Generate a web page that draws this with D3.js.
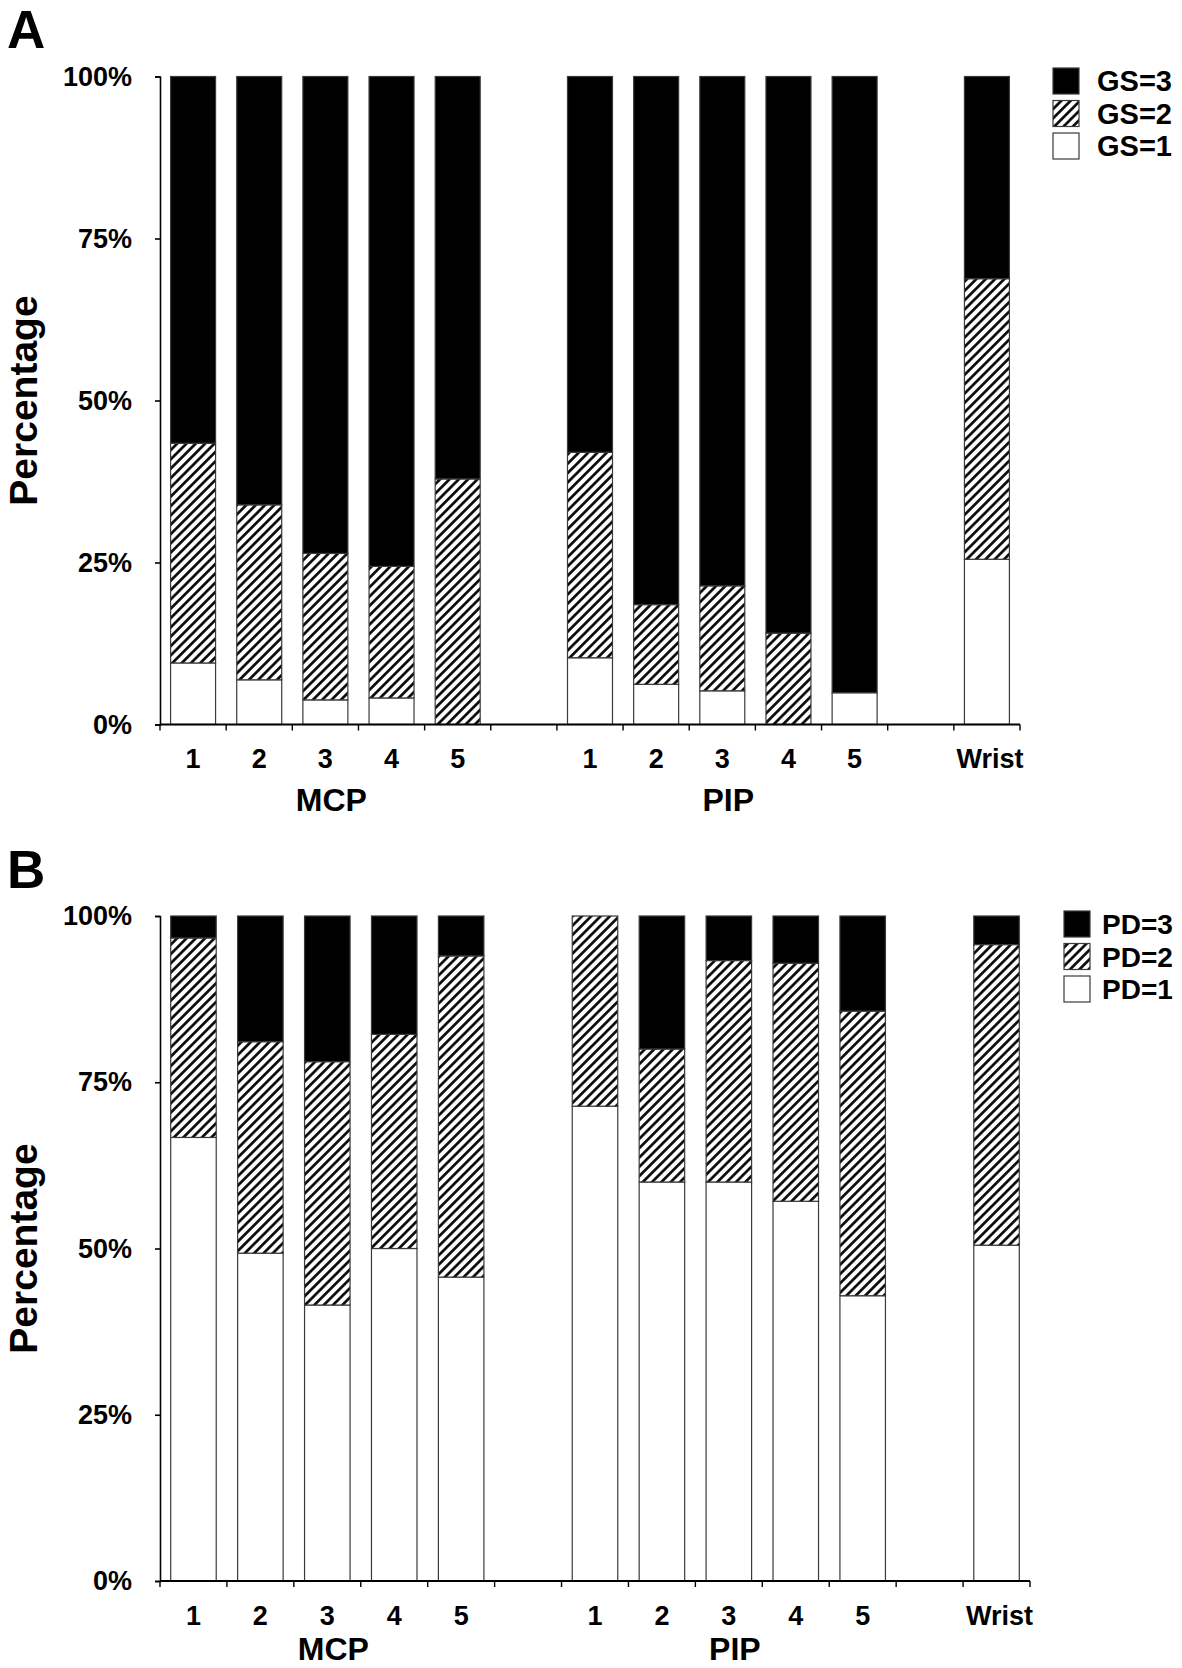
<!DOCTYPE html>
<html><head><meta charset="utf-8">
<script src="https://cdn.jsdelivr.net/npm/d3@7"></script>
<style>
body{margin:0;background:#fff}
svg{display:block}
text{font-family:"Liberation Sans",Arial,sans-serif;font-weight:bold;fill:#000}
</style>
</head><body>
<svg id="chart" width="1182" height="1668"></svg>
<script>
// ---------- data ----------
const slots = ["MCP-1","MCP-2","MCP-3","MCP-4","MCP-5","gap-a","PIP-1","PIP-2","PIP-3","PIP-4","PIP-5","gap-b","Wrist"];
const tickLabels = ["1","2","3","4","5","","1","2","3","4","5","","Wrist"];
const joints = ["MCP-1","MCP-2","MCP-3","MCP-4","MCP-5","PIP-1","PIP-2","PIP-3","PIP-4","PIP-5","Wrist"];
const groupLabels = [{label:"MCP", slot:"MCP-3"},{label:"PIP", slot:"PIP-3"}];
const yTicks = [0,25,50,75,100];

// Panel A: grey-scale synovitis (GS) grade percentages
const gs1 = [9.5, 6.9, 3.8, 4.1, 0, 10.3, 6.2, 5.2, 0, 4.9, 25.5];
const gs2 = [33.9, 27.0, 22.6, 20.3, 37.9, 31.7, 12.3, 16.2, 14.1, 0, 43.3];
const gs3 = [56.6, 66.1, 73.6, 75.6, 62.1, 58.0, 81.5, 78.6, 85.9, 95.1, 31.2];
const gsLegend = ["GS=3","GS=2","GS=1"];

// Panel B: power Doppler (PD) grade percentages
const pd1 = [66.7, 49.3, 41.5, 50.0, 45.7, 71.4, 60.0, 60.0, 57.1, 42.9, 50.5];
const pd2 = [30.0, 31.8, 36.6, 32.2, 48.3, 28.6, 20.0, 33.3, 35.8, 42.8, 45.2];
const pd3 = [3.3, 18.9, 21.9, 17.8, 6.0, 0, 20.0, 6.7, 7.1, 14.3, 4.3];
const pdLegend = ["PD=3","PD=2","PD=1"];

// ---------- drawing ----------
const svg = d3.select("#chart");
const defs = svg.append("defs");
const P = 6.6;
const pat = defs.append("pattern").attr("id","hatch")
  .attr("patternUnits","userSpaceOnUse").attr("width",P).attr("height",P)
  .attr("patternTransform","rotate(45)");
pat.append("rect").attr("width",P).attr("height",P).attr("fill","#fff");
pat.append("line").attr("x1",P/2).attr("y1",0).attr("x2",P/2).attr("y2",P)
  .attr("stroke","#000").attr("stroke-width",2.6);

const fills = ["#fff","url(#hatch)","#000"];

function panel(cfg){
  const g = svg.append("g");
  const x = d3.scaleBand().domain(slots).range([cfg.x0,cfg.x1])
    .paddingInner(0.32).paddingOuter(0.16);
  const y = d3.scaleLinear().domain([0,100]).range([cfg.yb,cfg.yt]);

  const rows = joints.map((j,i)=>({joint:j, l1:cfg.s1[i], l2:cfg.s2[i], l3:cfg.s3[i]}));
  const stack = d3.stack().keys(["l1","l2","l3"])(rows);

  stack.forEach((layer,li)=>{
    g.append("g").selectAll("rect").data(layer.filter(d=>d[1]-d[0]>0)).join("rect")
      .attr("x",d=>x(d.data.joint))
      .attr("width",x.bandwidth())
      .attr("y",d=>y(d[1]))
      .attr("height",d=>y(d[0])-y(d[1]))
      .attr("fill",fills[li])
      .attr("stroke","#3a3a3a").attr("stroke-width",1.2);
  });

  // y axis
  const ya = g.append("g").attr("transform",`translate(${cfg.x0},0)`)
    .call(d3.axisLeft(y).tickValues(yTicks).tickFormat(d=>d+"%").tickSize(5).tickPadding(23));
  ya.select(".domain").attr("stroke","#000").attr("stroke-width",1.6);
  ya.selectAll(".tick line").attr("stroke","#000").attr("stroke-width",1.6);
  ya.selectAll(".tick text").style("font-size","27px").attr("font-family",null);

  // x axis line and boundary ticks
  g.append("line").attr("x1",cfg.x0).attr("x2",cfg.x1).attr("y1",cfg.yb).attr("y2",cfg.yb)
    .attr("stroke","#000").attr("stroke-width",2.2);
  const step = x.step();
  g.append("g").selectAll("line").data(d3.range(slots.length+1)).join("line")
    .attr("x1",i=>cfg.x0+i*step).attr("x2",i=>cfg.x0+i*step)
    .attr("y1",cfg.yb).attr("y2",cfg.yb+6)
    .attr("stroke","#000").attr("stroke-width",1.4);

  // category labels
  g.append("g").selectAll("text").data(slots).join("text")
    .attr("x",d=>x(d)+x.bandwidth()/2 + (d==="Wrist"?3:0))
    .attr("y",cfg.yb+43.5)
    .attr("text-anchor","middle").style("font-size","27px")
    .text((d,i)=>tickLabels[i]);

  // group labels
  g.append("g").selectAll("text").data(groupLabels).join("text")
    .attr("x",d=>x(d.slot)+x.bandwidth()/2+6)
    .attr("y",cfg.yb+cfg.groupDy)
    .attr("text-anchor","middle").style("font-size","32px")
    .text(d=>d.label);

  // y title
  g.append("text")
    .attr("transform",`translate(37,${(cfg.yt+cfg.yb)/2}) rotate(-90)`)
    .attr("text-anchor","middle").style("font-size","39px")
    .text("Percentage");

  // panel letter
  g.append("text").attr("x",7).attr("y",cfg.letterY).style("font-size","53px").text(cfg.letter);

  // legend
  const lg = g.append("g");
  cfg.legend.forEach((lab,i)=>{
    const yy = cfg.legY + i*32.5;
    lg.append("rect").attr("x",cfg.legX).attr("y",yy).attr("width",26).attr("height",26)
      .attr("fill",fills[2-i]).attr("stroke","#3a3a3a").attr("stroke-width",1.2);
    lg.append("text").attr("x",cfg.legX+cfg.legDx).attr("y",yy+13).attr("dy","0.36em")
      .style("font-size",cfg.legFont+"px").text(lab);
  });
}

panel({x0:160, x1:1020, yt:76.5, yb:724.5, s1:gs1, s2:gs2, s3:gs3,
       legend:gsLegend, legX:1053, legY:68, legDx:44, legFont:29, letter:"A", letterY:48, groupDy:86});
panel({x0:160, x1:1030, yt:916, yb:1581, s1:pd1, s2:pd2, s3:pd3,
       legend:pdLegend, legX:1064, legY:911, legDx:38, legFont:28, letter:"B", letterY:888, groupDy:79});
</script>
</body></html>
